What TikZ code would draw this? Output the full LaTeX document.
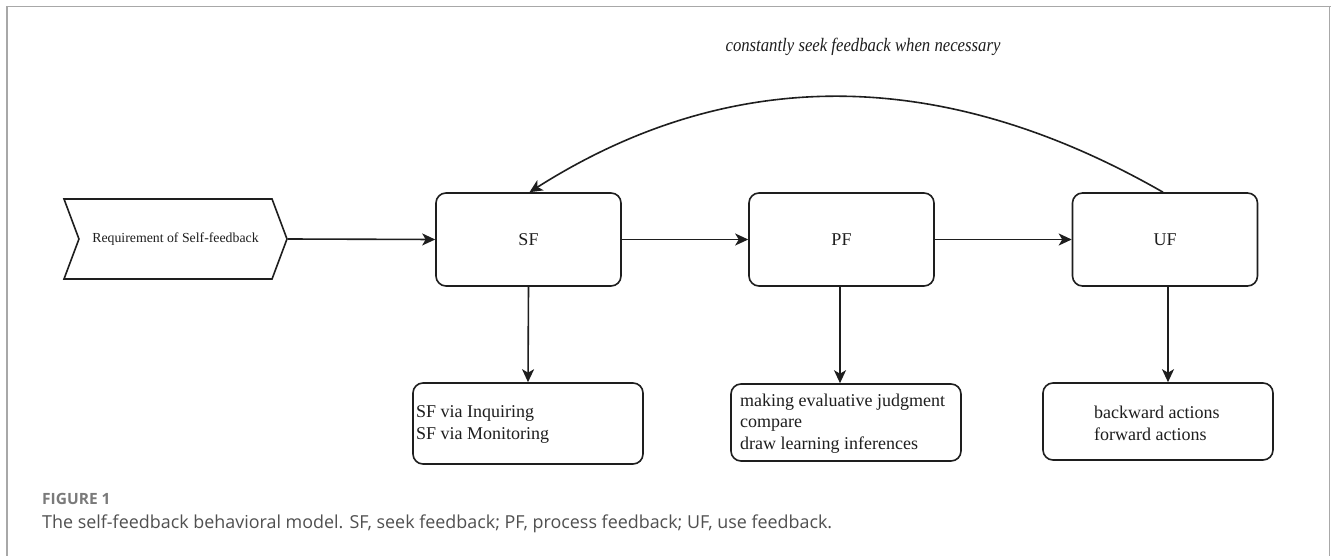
\documentclass[tikz,border=0pt]{standalone}
\usepackage{fontspec}
\setmainfont{Liberation Serif}
\newfontfamily\capfont{Open Sans}
\usetikzlibrary{shapes.symbols,arrows.meta}
\definecolor{framegray}{HTML}{A8A8A8}
\definecolor{captxt}{HTML}{505050}
\definecolor{figgray}{HTML}{7A7A7A}
\definecolor{ink}{HTML}{1E1E1E}
\begin{document}
\begin{tikzpicture}[x=1pt,y=-1pt,
  frameline/.style={draw=framegray,line width=1.6pt},
  procbox/.style={draw=ink,rounded corners=10pt,line width=1.6pt,minimum width=185pt,minimum height=93pt,inner sep=0pt,font=\fontsize{18}{21}\selectfont,text=ink},
  outbox/.style={draw=ink,rounded corners=10pt,line width=1.6pt,minimum width=230pt,inner sep=0pt},
  outtext/.style={anchor=west,align=left,inner sep=0pt,font=\fontsize{18}{21.8}\selectfont,text=ink},
  arr/.style={draw=ink,line width=1.6pt,-{Stealth[length=13pt,width=12pt,inset=3.5pt]}},
  captext/.style={anchor=base west,inner sep=0pt}]
\useasboundingbox (0,0) rectangle (1331,556);
\fill[white] (0,0) rectangle (1331,556);
% frame
\draw[frameline] (7,556) -- (7,6.5) -- (1331,6.5);
\draw[frameline] (1329.5,6.5) -- (1329.5,556);

% chevron
\node[signal,draw=ink,line width=1.6pt,signal from=west,signal to=east,signal pointer angle=139,
      minimum width=223pt,minimum height=80pt,inner sep=0pt,
      font=\fontsize{13.8}{16}\selectfont,text=ink] (req) at (175.5,239) {Requirement of Self-feedback};

% process boxes
\node[procbox] (sf) at (528.5,239.5) {SF};
\node[procbox] (pf) at (841.5,239.5) {PF};
\node[procbox] (uf) at (1165,239.5) {UF};

% output boxes
\node[outbox,minimum height=81pt] (sfb) at (528,423.5) {};
\node[outbox,minimum height=77pt] (pfb) at (846,422.5) {};
\node[outbox,minimum height=77pt] (ufb) at (1158,421.5) {};
\node[outtext] (sft) at (416,424.5) {SF via Inquiring\\SF via Monitoring};
\node[outtext] (pft) at (740,423.5) {making evaluative judgment\\compare\\draw learning inferences};
\node[outtext] (uft) at (1094,423) {backward actions\\forward actions};

% connectors
\draw[arr] (req.east) -- (sf.west);
\draw[arr] (sf.east) -- (pf.west);
\draw[arr] (pf.east) -- (uf.west);
\draw[arr] (sf.south) -- (sfb.north);
\draw[arr] ([xshift=-1.5pt]pf.south) -- ([xshift=-1.5pt]pf.south |- pfb.north);
\draw[arr] ([xshift=3pt]uf.south) -- ([xshift=3pt]uf.south |- ufb.north);
\draw[arr] ([xshift=-2pt]uf.north) .. controls (941,65) and (730,65) .. ([xshift=1pt]sf.north);

% feedback label
\node[inner sep=0pt,font=\fontsize{19}{22}\selectfont\itshape,text=ink] (lbl) at (863,47)
  {\scalebox{0.88}[1]{constantly seek feedback when necessary}};

% caption
\node[captext,font=\capfont\bfseries\fontsize{15.5}{18}\selectfont,text=figgray] (fig) at (42,504) {FIGURE 1};
\node[captext,font=\capfont\fontsize{17.9}{21}\selectfont,text=captxt] (cap) at (42,528)
  {The self-feedback behavioral model. SF, seek feedback; PF, process feedback; UF, use feedback.};
\end{tikzpicture}
\end{document}
